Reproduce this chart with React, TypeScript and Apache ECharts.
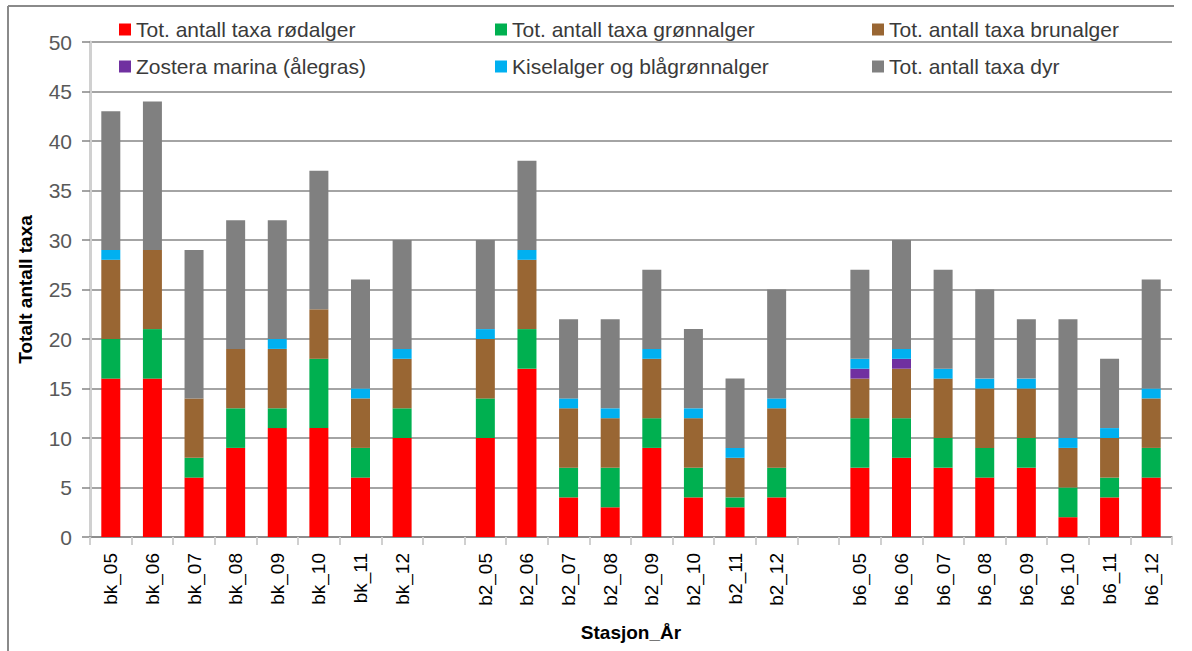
import React, { useEffect, useRef } from "react";
import * as echarts from "echarts";

const categories = [
  "bk_05", "bk_06", "bk_07", "bk_08", "bk_09", "bk_10", "bk_11", "bk_12", "",
  "b2_05", "b2_06", "b2_07", "b2_08", "b2_09", "b2_10", "b2_11", "b2_12", " ",
  "b6_05", "b6_06", "b6_07", "b6_08", "b6_09", "b6_10", "b6_11", "b6_12",
];

const rodalger = [16, 16, 6, 9, 11, 11, 6, 10, null, 10, 17, 4, 3, 9, 4, 3, 4, null, 7, 8, 7, 6, 7, 2, 4, 6];
const gronnalger = [4, 5, 2, 4, 2, 7, 3, 3, null, 4, 4, 3, 4, 3, 3, 1, 3, null, 5, 4, 3, 3, 3, 3, 2, 3];
const brunalger = [8, 8, 6, 6, 6, 5, 5, 5, null, 6, 7, 6, 5, 6, 5, 4, 6, null, 4, 5, 6, 6, 5, 4, 4, 5];
const zostera = [0, 0, 0, 0, 0, 0, 0, 0, null, 0, 0, 0, 0, 0, 0, 0, 0, null, 1, 1, 0, 0, 0, 0, 0, 0];
const kiselalger = [1, 0, 0, 0, 1, 0, 1, 1, null, 1, 1, 1, 1, 1, 1, 1, 1, null, 1, 1, 1, 1, 1, 1, 1, 1];
const dyr = [14, 15, 15, 13, 12, 14, 11, 11, null, 9, 9, 8, 9, 8, 8, 7, 11, null, 9, 11, 10, 9, 6, 12, 7, 11];

const seriesNames = [
  "Tot. antall taxa rødalger",
  "Tot. antall taxa grønnalger",
  "Tot. antall taxa brunalger",
  "Zostera marina (ålegras)",
  "Kiselalger og blågrønnalger",
  "Tot. antall taxa dyr",
];
const seriesColors = ["#FF0000", "#00B050", "#996633", "#7030A0", "#00B0F0", "#808080"];
const seriesData = [rodalger, gronnalger, brunalger, zostera, kiselalger, dyr];

const yTicks = { min: 0, max: 50, interval: 5 };

export default function App() {
  const ref = useRef<HTMLDivElement>(null);
  useEffect(() => {
    if (!ref.current) return;
    const chart = echarts.init(ref.current, undefined, { renderer: "svg" });
    const font = "Liberation Sans, Arial, sans-serif";
    const legendBase = {
      orient: "vertical" as const,
      top: 19,
      padding: 0,
      itemWidth: 12,
      itemHeight: 12,
      itemGap: 16,
      icon: "rect",
      textStyle: { fontSize: 21, color: "#3a3a3a", fontFamily: font, lineHeight: 21 },
    };
    chart.setOption({
      animation: false,
      backgroundColor: "#ffffff",
      legend: [
        { ...legendBase, left: 119, data: [seriesNames[0], seriesNames[3]] },
        { ...legendBase, left: 495, data: [seriesNames[1], seriesNames[4]] },
        { ...legendBase, left: 872, data: [seriesNames[2], seriesNames[5]] },
      ],
      grid: { left: 90, right: 20, top: 42, height: 495, containLabel: false },
      xAxis: {
        type: "category",
        data: categories,
        name: "Stasjon_År",
        nameLocation: "middle",
        nameGap: 86,
        nameTextStyle: { fontSize: 19, fontWeight: "bold", color: "#000", fontFamily: font },
        axisLine: { lineStyle: { color: "#868686", width: 1.5 } },
        axisTick: { show: true, length: 8, lineStyle: { color: "#d0d0d0", width: 2 } },
        axisLabel: {
          rotate: 90,
          interval: 0,
          fontSize: 19,
          color: "#000",
          fontFamily: font,
          margin: 16,
        },
      },
      yAxis: {
        type: "value",
        min: yTicks.min,
        max: yTicks.max,
        interval: yTicks.interval,
        name: "Totalt antall taxa",
        nameLocation: "middle",
        nameGap: 55,
        nameTextStyle: { fontSize: 19, fontWeight: "bold", color: "#000", fontFamily: font },
        axisLine: { show: true, lineStyle: { color: "#d0d0d0", width: 3 } },
        axisTick: { show: true, length: 8, lineStyle: { color: "#868686", width: 1.5 } },
        axisLabel: { fontSize: 21, color: "#595959", fontFamily: font, margin: 18 },
        splitLine: { show: true, lineStyle: { color: "#868686", width: 1.5 } },
      },
      series: seriesNames.map((name, i) => ({
        name,
        type: "bar",
        stack: "total",
        barWidth: 19,
        data: seriesData[i].map((v) => (v === null ? "-" : v)),
        itemStyle: { color: seriesColors[i] },
      })),
      graphic: [
        { type: "line", shape: { x1: 8, y1: 6, x2: 1174, y2: 6 }, style: { stroke: "#8a8a8a", lineWidth: 2 } },
        { type: "line", shape: { x1: 8, y1: 6, x2: 8, y2: 651 }, style: { stroke: "#8a8a8a", lineWidth: 2 } },
      ],
    });
    return () => chart.dispose();
  }, []);
  return (
    <div
      ref={ref}
      style={{ position: "fixed", left: 0, top: 0, width: 1192, height: 651 }}
    />
  );
}
